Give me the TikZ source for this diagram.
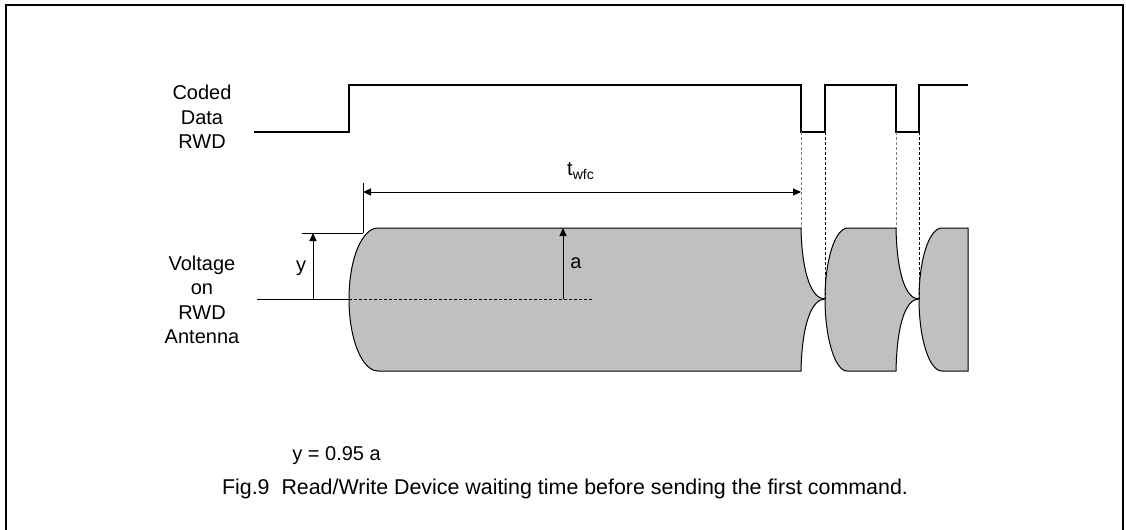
\documentclass[tikz,border=0pt]{standalone}
\usepackage{fontspec}
\setmainfont{Liberation Sans}
\usetikzlibrary{arrows.meta}
\definecolor{envgrey}{RGB}{192,192,192}
\tikzset{
    lbl/.style={font=\fontsize{10}{12.25}\selectfont, align=center, inner sep=0pt},
    signal/.style={line width=0.6pt},
    envelope/.style={fill=envgrey, draw=black, line width=0.5pt},
    guide/.style={line width=0.5pt, dash pattern=on 1.5pt off 1pt},
    dimarrow/.style={line width=0.5pt, -{Triangle[length=4pt, width=3.5pt]}},
}

\begin{document}
\begin{tikzpicture}[x=0.5pt, y=-0.5pt]
    \useasboundingbox (0,0) rectangle (1126,530);
    % frame
    \draw[line width=1pt] (6,530) -- (6,5) -- (1123,5) -- (1123,530);

    % antenna voltage envelope
    \draw[envelope] (378,228) -- (801,228) .. controls (802,275) and (812,299) .. (825,299)
        .. controls (812,299) and (802,323) .. (801,371) -- (378,371)
        .. controls (362,371) and (349,339) .. (349,299)
        .. controls (349,259) and (362,228) .. (378,228) -- cycle;
    \draw[envelope] (825,299) .. controls (825,260) and (835,228) .. (848,228) -- (896,228)
        .. controls (897,275) and (906,299) .. (919,299)
        .. controls (906,299) and (897,323) .. (896,371) -- (847,371)
        .. controls (835,371) and (825,338) .. (825,299) -- cycle;
    \draw[envelope] (919,299) .. controls (919,260) and (929,228) .. (942,228) -- (968,228)
        -- (968,371) -- (942,371) .. controls (929,371) and (919,338) .. (919,299) -- cycle;

    % coded data of the RWD
    \draw[signal] (254,132) -- (349,132) -- (349,85) -- (801,85) -- (801,132) -- (825,132)
        -- (825,85) -- (896,85) -- (896,132) -- (919,132) -- (919,85) -- (968,85);

    % named points
    \coordinate (fall1) at (801,132);
    \coordinate (fall1b) at (801,228);
    \coordinate (rise1) at (825,132);
    \coordinate (cusp1) at (825,299);
    \coordinate (fall2) at (896,132);
    \coordinate (fall2b) at (896,228);
    \coordinate (rise2) at (919,132);
    \coordinate (cusp2) at (919,299);
    \coordinate (tstart) at (363,192);
    \coordinate (tend) at (801,192);
    \coordinate (ytop) at (313,233);
    \coordinate (ybase) at (313,299);
    \coordinate (atop) at (563,228);
    \coordinate (abase) at (563,299);

    % guide lines
    \draw[guide, gray] (fall1) -- (fall1b);
    \draw[guide, gray] (fall2) -- (fall2b);
    \draw[guide] (rise1) -- (cusp1);
    \draw[guide] (rise2) -- (cusp2);
    \draw[guide] (349,299) -- (594,299);

    % extension lines
    \draw[line width=0.5pt] (363,183) -- (363,233);
    \draw[line width=0.5pt] (302,233) -- (363,233);
    \draw[line width=0.5pt] (257,299) -- (349,299);

    % dimensions
    \draw[dimarrow, {Triangle[length=4pt, width=3.5pt]}-{Triangle[length=4pt, width=3.5pt]}] (tstart) -- (tend);
    \draw[dimarrow] (ybase) -- (ytop);
    \draw[dimarrow] (abase) -- (atop);

    % texts
    \node[lbl] (coded) at (202,117) {Coded\\Data\\RWD};
    \node[lbl] (volt) at (202,300) {Voltage\\on\\RWD\\Antenna};
    \node[lbl] (twfc) at (581,171) {t\textsubscript{wfc}};
    \node[lbl] (ylbl) at (301,268) {y};
    \node[lbl] (albl) at (576,263) {a};
    \node[lbl, anchor=west] (ratio) at (292,456) {y = 0.95 a};
    \node[lbl, font=\fontsize{10.7}{13}\selectfont] (caption) at (565,489) {Fig.9\ \ Read/Write Device waiting time before sending the first command.};
\end{tikzpicture}
\end{document}
